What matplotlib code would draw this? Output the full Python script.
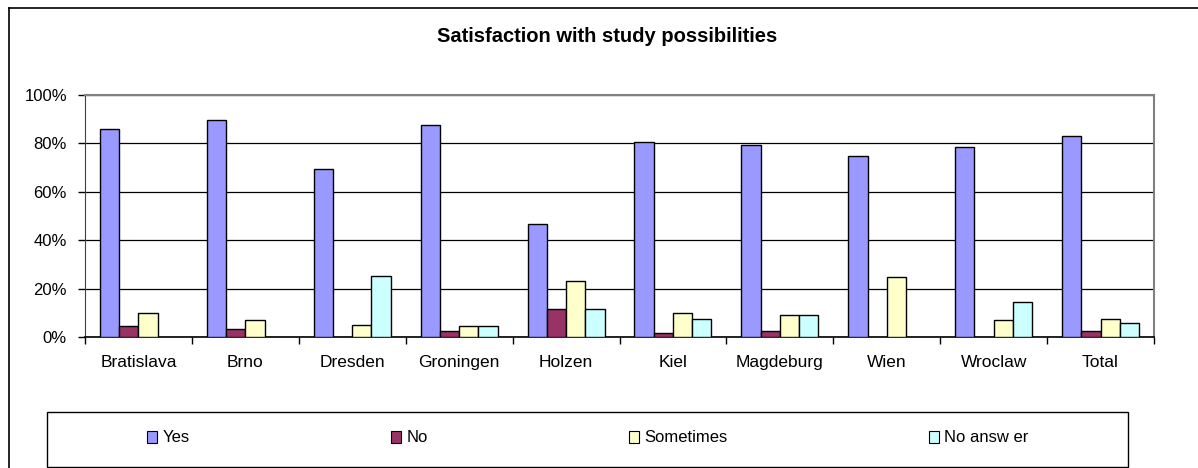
import numpy as np
import matplotlib
matplotlib.use('Agg')
import matplotlib.pyplot as plt
from matplotlib.lines import Line2D
from matplotlib.patches import Rectangle

plt.rcParams['font.family'] = ['Liberation Sans', 'DejaVu Sans']

# data (percent)
cities = ['Bratislava', 'Brno', 'Dresden', 'Groningen', 'Holzen',
          'Kiel', 'Magdeburg', 'Wien', 'Wroclaw', 'Total']
yes = [85.8, 89.5, 69.4, 87.7, 46.6, 80.6, 79.2, 74.6, 78.6, 83.2]
no = [4.4, 3.3, 0, 2.6, 11.6, 1.8, 2.6, 0, 0, 2.6]
sometimes = [9.8, 7.2, 5.0, 4.6, 23.3, 9.8, 9.0, 24.6, 7.2, 7.6]
no_answer = [0, 0, 25.1, 4.6, 11.6, 7.6, 9.0, 0, 14.5, 5.8]

series = [('Yes', yes, '#9999FF'),
          ('No', no, '#993366'),
          ('Sometimes', sometimes, '#FFFFCC'),
          ('No answ er', no_answer, '#CCFFFF')]

W, H = 1198, 468
fig = plt.figure(figsize=(W / 100, H / 100), dpi=100)
ax = fig.add_axes([85 / W, 1 - 337 / H, (1154 - 85) / W, (337 - 95) / H])

x = np.arange(len(cities))
bw = 0.18
handles = []
for i, (name, vals, col) in enumerate(series):
    vals = np.array(vals)
    keep = vals > 0
    ax.bar(x[keep] + (i - 1.5) * bw, vals[keep], width=bw, color=col,
           edgecolor='black', linewidth=1.0, zorder=3)
    handles.append(Rectangle((0, 0), 1, 1, facecolor=col, edgecolor='black', linewidth=0.8))

ax.set_xlim(-0.5, len(cities) - 0.5)
ax.set_ylim(0, 100)
ax.set_yticks(np.arange(0, 101, 20))
ax.set_yticklabels([f'{v}%' for v in range(0, 101, 20)], fontsize=12)
ax.yaxis.grid(True, color='black', linewidth=0.9, zorder=0)

ax.set_xticks(np.arange(-0.5, len(cities), 1.0))
ax.set_xticklabels([])
ax.set_xticks(x, minor=True)
ax.set_xticklabels(cities, minor=True, fontsize=12.5)
ax.tick_params(axis='x', which='major', direction='out', length=5, width=1, color='black')
ax.tick_params(axis='x', which='minor', length=0, pad=13)
ax.tick_params(axis='y', direction='out', length=5, width=1, pad=8)

for s in ['top', 'right']:
    ax.spines[s].set_color('#808080')
    ax.spines[s].set_linewidth(1.5)
ax.spines['left'].set_color('#404040')
ax.spines['bottom'].set_color('black')
ax.spines['bottom'].set_linewidth(1.2)

fig.text(607 / W, 1 - 37 / H, 'Satisfaction with study possibilities',
         ha='center', va='center', fontsize=14.5, fontweight='bold')

# outer chart border (runs off the image on right and bottom)
fig.add_artist(Line2D([9 / W, 9 / W], [0, 1 - 8 / H], color='black', linewidth=1.2))
fig.add_artist(Line2D([9 / W, 1], [1 - 8 / H, 1 - 8 / H], color='black', linewidth=1.2))

# legend box
fig.add_artist(Rectangle((47 / W, 1 - 467 / H), (1128 - 47) / W, (467 - 412) / H,
                         transform=fig.transFigure, fill=False, edgecolor='black', linewidth=1.0))
fig.legend(handles, [s[0] for s in series], loc='center', ncol=4,
           bbox_to_anchor=(588 / W, 1 - 438 / H), frameon=False, fontsize=12,
           columnspacing=12.1, handlelength=0.6, handleheight=0.7, handletextpad=0.3)

fig.savefig('out.png', dpi=100)
